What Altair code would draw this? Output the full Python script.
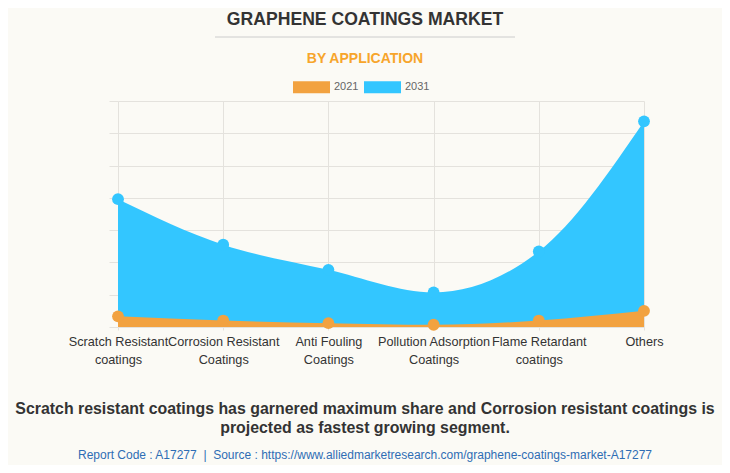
import altair as alt
import pandas as pd

# ---- data ----
categories = [
    "Scratch Resistant\ncoatings",
    "Corrosion Resistant\nCoatings",
    "Anti Fouling\nCoatings",
    "Pollution Adsorption\nCoatings",
    "Flame Retardant\ncoatings",
    "Others",
]
values_2021 = [0.33, 0.20, 0.12, 0.07, 0.20, 0.50]
values_2031 = [3.96, 2.55, 1.77, 1.07, 2.34, 6.37]
years = ["2021", "2031"]
colors = ["#F2A240", "#33C6FF"]

title_text = "GRAPHENE COATINGS MARKET"
subtitle_text = "BY APPLICATION"
bottom_lines = [
    "Scratch resistant coatings has garnered maximum share and Corrosion resistant coatings is",
    "projected as fastest growing segment.",
]
footer_text = "Report Code : A17277\u00a0\u00a0|\u00a0\u00a0Source : https://www.alliedmarketresearch.com/graphene-coatings-market-A17277"

FONT = "Liberation Sans"
GRID = "#e4e2dd"

df = pd.DataFrame({
    "category": categories * 2,
    "year": [years[0]] * len(categories) + [years[1]] * len(categories),
    "value": values_2021 + values_2031,
})

base = alt.Chart(df).encode(
    x=alt.X(
        "category:N",
        sort=categories,
        scale=alt.Scale(type="point", padding=0),
        axis=alt.Axis(
            title=None,
            labelExpr="split(datum.label, '\\n')",
            labelAngle=0,
            labelFontSize=12.7,
            labelFont=FONT,
            labelColor="#333333",
            labelLineHeight=18,
            labelPadding=5,
            labelOverlap=False,
            tickSize=3,
            tickColor=GRID,
            domain=False,
            grid=True,
            gridColor=GRID,
        ),
    ),
    y=alt.Y(
        "value:Q",
        stack=None,
        scale=alt.Scale(domain=[0, 7], nice=False),
        axis=alt.Axis(
            title=None,
            labels=False,
            values=[0, 1, 2, 3, 4, 5, 6, 7],
            tickSize=9,
            tickColor=GRID,
            domain=False,
            grid=True,
            gridColor=GRID,
        ),
    ),
    color=alt.Color(
        "year:N",
        scale=alt.Scale(domain=years, range=colors),
        legend=alt.Legend(
            title=None,
            orient="none",
            legendX=175,
            legendY=-32.5,
            direction="horizontal",
            symbolType="M-1,-0.324L1,-0.324L1,0.324L-1,0.324Z",
            symbolSize=1369,
            symbolStrokeWidth=0,
            symbolOpacity=1,
            labelFont=FONT,
            labelFontSize=11,
            labelColor="#666666",
            labelOffset=4,
            columnPadding=5,
        ),
    ),
)

area31 = base.transform_filter("datum.year == '2031'").mark_area(interpolate="monotone", opacity=1)
area21 = base.transform_filter("datum.year == '2021'").mark_area(interpolate="monotone", opacity=1)
pts31 = base.transform_filter("datum.year == '2031'").mark_circle(size=140, opacity=1)
pts21 = base.transform_filter("datum.year == '2021'").mark_circle(size=140, opacity=1)

one = pd.DataFrame({"a": [0]})

title = alt.Chart(pd.DataFrame({"t": [title_text]})).mark_text(
    align="center", baseline="middle", fontSize=17.6, fontWeight="bold", font=FONT, color="#333333"
).encode(text="t:N", x=alt.value(247), y=alt.value(-81))

sep = alt.Chart(one).mark_rule(color="#cccccc", strokeWidth=1).encode(
    x=alt.value(97), x2=alt.value(397), y=alt.value(-64)
)

subtitle = alt.Chart(pd.DataFrame({"t": [subtitle_text]})).mark_text(
    align="center", baseline="middle", fontSize=14, fontWeight="bold", font=FONT, color="#F7A52B"
).encode(text="t:N", x=alt.value(247), y=alt.value(-42))

bottom_layers = []
for i, line in enumerate(bottom_lines):
    bottom_layers.append(
        alt.Chart(pd.DataFrame({"t": [line]})).mark_text(
            align="center", baseline="middle", fontSize=15.9, fontWeight="bold", font=FONT, color="#333333"
        ).encode(text="t:N", x=alt.value(247), y=alt.value(308 + i * 19))
    )

footer = alt.Chart(pd.DataFrame({"t": [footer_text]})).mark_text(
    align="center", baseline="middle", fontSize=12, font=FONT, color="#2E6DB4"
).encode(text="t:N", x=alt.value(247), y=alt.value(354))

chart = alt.layer(
    area31, area21, pts31, pts21, title, sep, subtitle, *bottom_layers, footer
).properties(
    width=526,
    height=226,
    padding={"left": 110, "top": 93, "right": 78, "bottom": 138},
    autosize=alt.AutoSizeParams(type="none"),
).configure(
    background="#FBFAF5"
).configure_view(
    strokeWidth=0
)

chart.save("out.html", embed_options={"renderer": "svg", "actions": False})
